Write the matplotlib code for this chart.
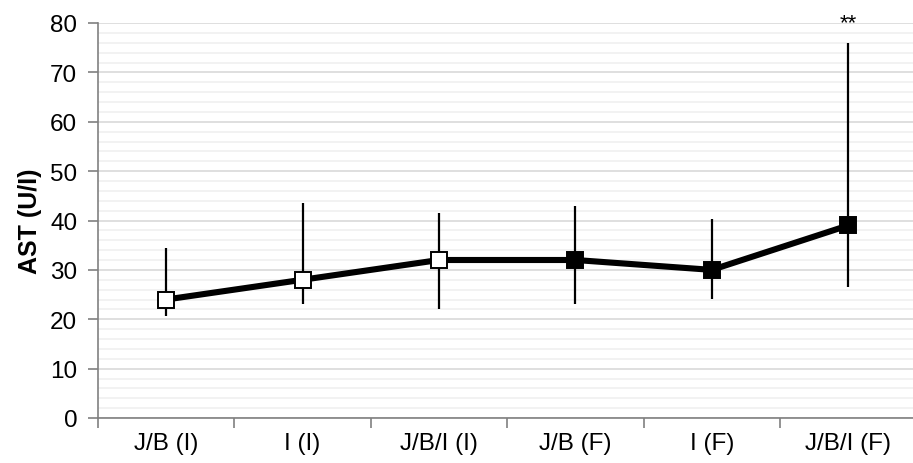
import matplotlib
matplotlib.use("Agg")
import matplotlib.pyplot as plt
import numpy as np

categories = ["J/B (I)", "I (I)", "J/B/I (I)", "J/B (F)", "I (F)", "J/B/I (F)"]
means = [24, 28, 32, 32, 30, 39]
err_low = [20.6, 23.1, 22.1, 23.0, 24.1, 26.6]
err_high = [34.4, 43.5, 41.5, 43.0, 40.4, 76.0]
filled = [False, False, False, True, True, True]
annotations = ["", "", "", "", "", "**"]

plt.rcParams['font.family'] = ['Liberation Sans', 'DejaVu Sans']

fig = plt.figure(figsize=(9.13, 4.64), dpi=100)
ax = fig.add_axes([98/913, 45/464, 1 - 98/913, (419 - 24)/464])

x = np.arange(len(categories))
means_a = np.array(means)
lo = means_a - np.array(err_low)
hi = np.array(err_high) - means_a

ax.errorbar(x, means_a, yerr=[lo, hi], fmt='none', ecolor='black', elinewidth=1.6, capsize=0, zorder=3)
ax.plot(x, means_a, color='black', lw=4.4, zorder=4, solid_capstyle='butt')
for xi, yi, f in zip(x, means_a, filled):
    ax.plot(xi, yi, marker='s', markersize=11.5, markeredgewidth=1.4,
            markeredgecolor='black', markerfacecolor='black' if f else 'white', zorder=5)

for xi, a in zip(x, annotations):
    if a:
        ax.text(xi, 78.0, a, ha='center', va='bottom', fontsize=16, clip_on=False)

ax.set_ylim(0, 80)
ax.set_xlim(-0.5, 5.475)
ax.set_yticks(np.arange(0, 81, 10))
ax.set_yticks(np.arange(0, 81, 2), minor=True)
ax.yaxis.grid(True, which='major', color='#d9d9d9', lw=1.2)
ax.yaxis.grid(True, which='minor', color='#f0f0f0', lw=1.2)
ax.set_axisbelow(True)

ax.set_xticks(x)
ax.set_xticklabels(categories, fontsize=17.5)
ax.tick_params(axis='x', which='major', length=0, pad=10)
ax.set_xticks(np.arange(-0.5, 5.5, 1), minor=True)
ax.tick_params(axis='x', which='minor', length=7, color='#808080', width=1.2)
ax.tick_params(axis='y', which='major', length=7, color='#808080', width=1.2, labelsize=17.5, pad=8)
ax.tick_params(axis='y', which='minor', length=0)

for s in ['top', 'right']:
    ax.spines[s].set_visible(False)
for s in ['left', 'bottom']:
    ax.spines[s].set_color('#808080')
    ax.spines[s].set_linewidth(1.2)

ax.set_ylabel("AST (U/I)", fontsize=18, fontweight='bold', labelpad=6)

fig.savefig("out.png", dpi=100)
